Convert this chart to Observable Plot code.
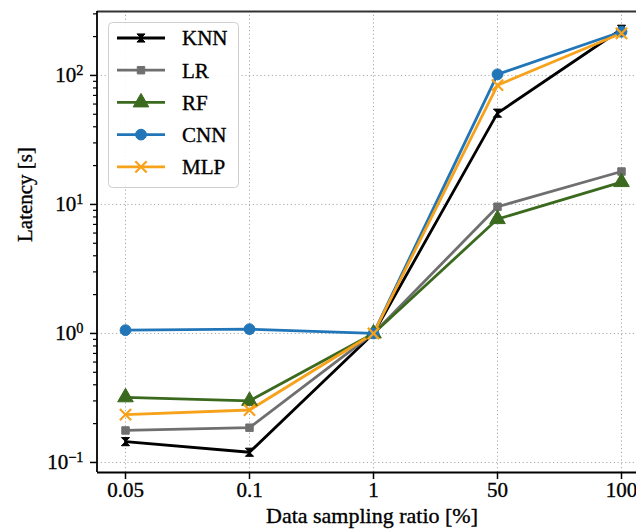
<!DOCTYPE html>
<html>
<head>
<meta charset="utf-8">
<script src="https://cdn.jsdelivr.net/npm/d3@7"></script>
<script src="https://cdn.jsdelivr.net/npm/@observablehq/plot@0.6"></script>
<style>
  html, body { margin: 0; padding: 0; background: white; overflow: hidden; }
  #chart svg, #chart svg text { font-family: 'Liberation Serif', 'Times New Roman', serif !important; }
  #chart svg text { stroke: #000; stroke-width: 0.35px; paint-order: stroke; }
</style>
</head>
<body>
<div id="chart"></div>
<script>
// ---- data ----
const ratios = ["0.05", "0.1", "1", "50", "100"];
const models = ["KNN", "LR", "RF", "CNN", "MLP"];
const knn = [0.145, 0.12, 1.0, 51, 228];
const lr  = [0.177, 0.186, 1.0, 9.6, 18];
const rf  = [0.32, 0.30, 1.0, 7.7, 14.9];
const cnn = [1.06, 1.08, 1.0, 102, 218];
const mlp = [0.235, 0.255, 1.0, 84, 212];
const colors = ["#000000", "#6f6f6f", "#3b6a1f", "#2276b8", "#f7a21b"];
const yMajor = [0.1, 1, 10, 100];
const xLabel = "Data sampling ratio [%]";
const yLabel = "Latency [s]";

const seriesValues = [knn, lr, rf, cnn, mlp];
const rows = [];
models.forEach((m, i) => ratios.forEach((r, j) => rows.push({model: m, ratio: r, value: seriesValues[i][j]})));

// custom hourglass marker for KNN
const hourglass = {
  draw(ctx, size) {
    const s = Math.sqrt(size) * 0.5;
    ctx.moveTo(-s, -s);
    ctx.lineTo(s, -s);
    ctx.lineTo(-s, s);
    ctx.lineTo(s, s);
    ctx.closePath();
  }
};
const symbols = [hourglass, "square", "triangle", "circle", "times"];
const sizes = [4.6, 4.2, 5.8, 5.4, 5.2];

const minor = [];
for (const d of [0.1, 1, 10, 100]) for (let k = 2; k <= 9; k++) minor.push(d * k);

const font = "'Liberation Serif', 'Times New Roman', serif";
const supMap = {0.1: "-1", 1: "0", 10: "1", 100: "2"};

const marks = [
  Plot.gridX({stroke: "#a8a8a8", strokeOpacity: 1, strokeWidth: 1, strokeDasharray: "1.2,2.6"}),
  Plot.gridY(yMajor, {stroke: "#a8a8a8", strokeOpacity: 1, strokeWidth: 1, strokeDasharray: "1.2,2.6"}),
  Plot.line(rows, {x: "ratio", y: "value", z: "model", stroke: "model", strokeWidth: 2.8})
];
models.forEach((m, i) => {
  const data = rows.filter(d => d.model === m);
  if (symbols[i] === "times") {
    marks.push(Plot.dot(data, {x: "ratio", y: "value", symbol: () => "times", r: sizes[i], stroke: colors[i], strokeWidth: 2.2, fill: "none"}));
  } else {
    marks.push(Plot.dot(data, {x: "ratio", y: "value", symbol: () => symbols[i], r: sizes[i], fill: colors[i], stroke: colors[i], strokeWidth: 1}));
  }
});
marks.push(
  Plot.axisX({tickSize: 7, tickPadding: 3, fontSize: 21, label: null, stroke: "black", strokeWidth: 1.5}),
  Plot.axisY(minor, {tickSize: 4, tickFormat: () => "", label: null, stroke: "black", strokeWidth: 1.2}),
  Plot.axisY(yMajor, {tickSize: 7, tickPadding: 7, fontSize: 21, label: null, tickFormat: d => "10^" + supMap[d], stroke: "black", strokeWidth: 1.5}),
  Plot.ruleY([0.0836], {stroke: "black", strokeWidth: 1.8}),
  Plot.ruleY([313], {stroke: "#333", strokeWidth: 2}),
  Plot.text([xLabel], {frameAnchor: "bottom", dy: 50, dx: 5, fontSize: 22, text: d => d, fill: "black"}),
  Plot.text([yLabel], {frameAnchor: "left", dx: -72, rotate: -90, fontSize: 21, text: d => d, fill: "black"})
);

const chart = Plot.plot({
  width: 636,
  height: 531,
  marginLeft: 97,
  marginRight: 0,
  marginTop: 11,
  marginBottom: 59,
  style: {fontFamily: font, color: "black", background: "white"},
  x: {type: "point", domain: ratios, range: [123, 622], padding: 0},
  y: {type: "log", domain: [0.0836, 313]},
  color: {domain: models, range: colors},
  marks
});
document.getElementById("chart").appendChild(chart);

const svg = d3.select(chart);
// left spine
svg.append("line")
  .attr("x1", 97).attr("x2", 97).attr("y1", 11).attr("y2", 472)
  .attr("stroke", "black").attr("stroke-width", 1.8);

// superscripts on y tick labels
svg.selectAll("text").each(function() {
  const t = this.textContent;
  if (/^10\^/.test(t)) {
    const exp = t.slice(3);
    const sel = d3.select(this);
    sel.text(null);
    sel.append("tspan").text("10");
    sel.append("tspan").attr("dy", "-0.5em").attr("font-size", "0.68em").text(exp === "-1" ? "\u22121" : exp);
  }
});

// legend
const lg = svg.append("g").attr("font-family", font).attr("font-size", 21).attr("text-anchor", "start");
lg.append("rect").attr("x", 108.5).attr("y", 22.5).attr("width", 130).attr("height", 165)
  .attr("rx", 4).attr("fill", "white").attr("fill-opacity", 0.9).attr("stroke", "#cfcfcf").attr("stroke-width", 1);
models.forEach((m, i) => {
  const y = 38 + i * 32.2;
  lg.append("line").attr("x1", 117).attr("x2", 165).attr("y1", y).attr("y2", y)
    .attr("stroke", colors[i]).attr("stroke-width", 2.8);
  const sym = typeof symbols[i] === "string"
    ? {square: d3.symbolSquare, triangle: d3.symbolTriangle, circle: d3.symbolCircle, times: d3.symbolTimes}[symbols[i]]
    : symbols[i];
  const p = d3.symbol(sym, Math.PI * sizes[i] * sizes[i])();
  const path = lg.append("path").attr("d", p).attr("transform", `translate(141,${y})`);
  if (symbols[i] === "times") path.attr("fill", "none").attr("stroke", colors[i]).attr("stroke-width", 2.2);
  else path.attr("fill", colors[i]).attr("stroke", colors[i]);
  lg.append("text").attr("x", 182).attr("y", y).attr("dy", "0.35em").attr("fill", "black").text(m);
});
</script>
</body>
</html>
